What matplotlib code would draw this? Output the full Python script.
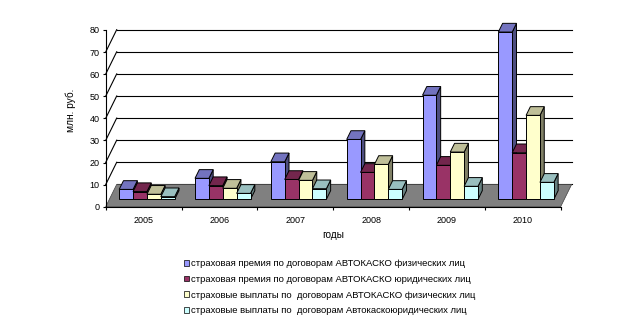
import matplotlib
matplotlib.use("Agg")
import matplotlib.pyplot as plt
from matplotlib.patches import Polygon, Rectangle
import numpy as np

plt.rcParams['font.family'] = ['Liberation Sans', 'DejaVu Sans']

years = ['2005', '2006', '2007', '2008', '2009', '2010']
series_names = [
    'страховая премия по договорам АВТОКАСКО физических лиц',
    'страховая премия по договорам АВТОКАСКО юридических лиц',
    'страховые выплаты по  договорам АВТОКАСКО физических лиц',
    'страховые выплаты по  договорам Автокаскоюридических лиц',
]
premium_phys = [4.5, 9.5, 17.0, 27.1, 47.1, 75.7]
premium_jur = [3.5, 6.2, 9.0, 12.2, 15.4, 21.1]
payments_phys = [2.3, 5.0, 8.6, 15.8, 21.4, 38.0]
payments_jur = [1.2, 2.7, 4.8, 4.5, 5.9, 7.7]
series = [premium_phys, premium_jur, payments_phys, payments_jur]
colors = ['#9999FF', '#993366', '#FFFFCC', '#CCFFFF']
y_ticks = [0, 10, 20, 30, 40, 50, 60, 70, 80]

W, H = 635, 323
fig = plt.figure(figsize=(W / 100, H / 100), dpi=100)
ax = fig.add_axes([0, 0, 1, 1])

# pixel mapping
x0px, pxx = 105.7, 75.83
y0px, pxy = 206.7, 2.21
ax.set_xlim(-x0px / pxx, (W - x0px) / pxx)
ax.set_ylim((y0px - H) / pxy, y0px / pxy)
ax.patch.set_visible(False)

ncat = len(years)
Dx, Dy = 0.145, 10.1  # depth vector of the floor (data units)
f0, f1 = 0.33, 0.72   # bar depth fractions
gap, bw = 0.13, 0.183


def shade(c, k):
    r, g, b = matplotlib.colors.to_rgb(c)
    return (r * k, g * k, b * k)

# back wall gridlines and left wall diagonals
for v in y_ticks[:-1]:
    ax.plot([Dx, ncat + Dx], [v + Dy, v + Dy], color='black', lw=0.8, zorder=1)
    if v > 0:
        ax.plot([0, Dx], [v, v + Dy], color='black', lw=0.8, zorder=1)

# floor
floor = Polygon([(0, 0), (ncat, 0), (ncat + Dx, Dy), (Dx, Dy)], closed=True,
                facecolor='#808080', edgecolor='#404040', lw=0.5, zorder=2)
ax.add_patch(floor)

lw = 0.7
ddx, ddy = (f1 - f0) * Dx, (f1 - f0) * Dy
for c in range(ncat):
    for i, vals in enumerate(series):
        v = vals[c]
        col = colors[i]
        bx = c + gap + i * bw + f0 * Dx
        by = f0 * Dy
        side = Polygon([(bx + bw, by), (bx + bw + ddx, by + ddy),
                        (bx + bw + ddx, by + v + ddy), (bx + bw, by + v)],
                       closed=True, facecolor=shade(col, 0.5), edgecolor='black', lw=lw, zorder=3)
        top = Polygon([(bx, by + v), (bx + bw, by + v), (bx + bw + ddx, by + v + ddy),
                       (bx + ddx, by + v + ddy)],
                      closed=True, facecolor=shade(col, 0.75), edgecolor='black', lw=lw, zorder=3)
        front = Rectangle((bx, by), bw, v, facecolor=col, edgecolor='black', lw=lw, zorder=3)
        ax.add_patch(side)
        ax.add_patch(top)
        ax.add_patch(front)

# axes
for s in ['top', 'right']:
    ax.spines[s].set_visible(False)
ax.spines['left'].set_position(('data', 0))
ax.spines['left'].set_bounds(0, 80)
ax.spines['bottom'].set_position(('data', 0))
ax.spines['bottom'].set_bounds(0, ncat)
ax.spines['left'].set_linewidth(0.8)
ax.spines['bottom'].set_linewidth(0.8)
ax.spines['left'].set_zorder(4)
ax.spines['bottom'].set_zorder(4)

ax.set_yticks(y_ticks)
ax.set_yticklabels([str(t) for t in y_ticks])
ax.set_xticks(np.arange(ncat + 1))
ax.set_xticklabels([])
ax.set_xticks(np.arange(ncat) + 0.5, minor=True)
ax.set_xticklabels(years, minor=True)
ax.tick_params(axis='y', length=2.5, width=0.8, pad=2, labelsize=6.5, direction='out')
ax.tick_params(axis='x', which='major', length=2.5, width=0.8, direction='out')
ax.tick_params(axis='x', which='minor', length=0, pad=7, labelsize=6.5)

ax.text(-0.46, 43.5, 'млн. руб.', rotation=90, ha='center', va='center', fontsize=7.3)
ax.text((333 - x0px) / pxx, (y0px - 235) / pxy, 'годы', ha='center', va='center', fontsize=7.3)

handles = [Rectangle((0, 0), 1, 1, facecolor=col, edgecolor='black', lw=0.5) for col in colors]
fig.legend(handles, series_names, loc='upper left', bbox_to_anchor=(184 / W, 1 - 259 / H),
           frameon=False, fontsize=6.8, handlelength=0.57, handleheight=0.57,
           handletextpad=0.2, labelspacing=0.72, borderpad=0, borderaxespad=0)

fig.savefig('out.png', dpi=100)
